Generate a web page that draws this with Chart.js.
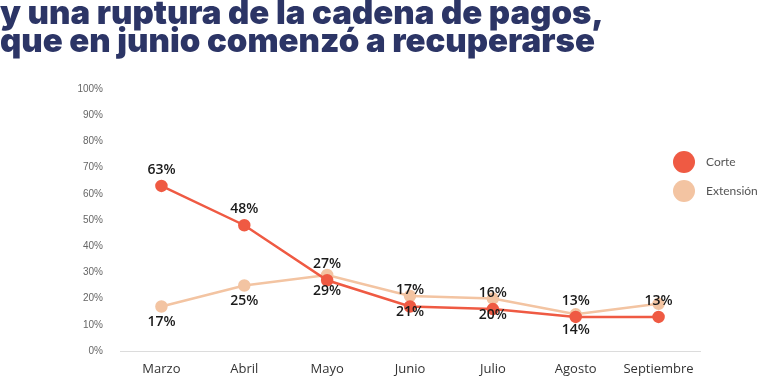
<!DOCTYPE html>
<html>
<head>
<meta charset="utf-8">
<script src="https://cdn.jsdelivr.net/npm/chart.js@4"></script>
<style>
  html, body { margin: 0; padding: 0; background: #fff; }
  #wrap { position: relative; width: 760px; height: 381px; overflow: hidden; }
  #title {
    position: absolute; left: 0; top: -2px; margin: 0;
    font-family: Inter, sans-serif; font-weight: 900; font-size: 33px;
    line-height: 28px; color: #2c3566; letter-spacing: 0;
  }
  #chart { position: absolute; left: 0; top: 0; }
</style>
</head>
<body>
<div id="wrap">
  <canvas id="chart" width="760" height="381"></canvas>
  <h1 id="title">y una ruptura de la cadena de pagos,<br>que en junio comenzó a recuperarse</h1>
</div>
<script>
(function () {
  'use strict';

  var meses = ['Marzo', 'Abril', 'Mayo', 'Junio', 'Julio', 'Agosto', 'Septiembre'];
  var corte = [63, 48, 27, 17, 16, 13, 13];
  var extension = [17, 25, 29, 21, 20, 14, 18];
  var corteLabels = ['63%', '48%', '27%', '17%', '16%', '13%', '13%'];
  var extensionLabels = ['17%', '25%', '29%', '21%', '20%', '14%', ''];

  var rojo = '#ef5a43';
  var durazno = '#f3c4a2';

  // etiquetas de valor sobre / bajo cada punto
  var etiquetas = {
    id: 'etiquetas',
    afterDatasetsDraw: function (chart) {
      var ctx = chart.ctx;
      ctx.save();
      ctx.font = '600 14px "Open Sans", sans-serif';
      ctx.fillStyle = '#1a1a1a';
      ctx.textAlign = 'center';
      ctx.textBaseline = 'middle';
      chart.data.datasets.forEach(function (ds, i) {
        var meta = chart.getDatasetMeta(i);
        var off = i === 0 ? -16 : 16;
        meta.data.forEach(function (pt, j) {
          var txt = ds.etiquetas[j];
          if (txt) ctx.fillText(txt, pt.x, pt.y + off);
        });
      });
      ctx.restore();
    }
  };

  // leyenda a la derecha
  var leyenda = {
    id: 'leyenda',
    afterDraw: function (chart) {
      var ctx = chart.ctx;
      ctx.save();
      ctx.font = '12px Lato, sans-serif';
      ctx.textBaseline = 'middle';
      chart.data.datasets.forEach(function (ds, i) {
        var y = 162 + i * 29;
        ctx.beginPath();
        ctx.arc(684, y, 11, 0, Math.PI * 2);
        ctx.fillStyle = ds.borderColor;
        ctx.fill();
        ctx.fillStyle = '#555';
        ctx.fillText(ds.label, 706, y);
      });
      ctx.restore();
    }
  };

  var ctx = document.getElementById('chart').getContext('2d');
  new Chart(ctx, {
    type: 'line',
    data: {
      labels: meses,
      datasets: [{
        label: 'Corte',
        data: corte,
        etiquetas: corteLabels,
        borderColor: rojo,
        backgroundColor: rojo,
        borderWidth: 2.5,
        pointRadius: 5,
        pointHoverRadius: 5,
        tension: 0
      }, {
        label: 'Extensión',
        data: extension,
        etiquetas: extensionLabels,
        borderColor: durazno,
        backgroundColor: durazno,
        borderWidth: 2.5,
        pointRadius: 5,
        pointHoverRadius: 5,
        tension: 0
      }]
    },
    options: {
      responsive: false,
      animation: false,
      layout: { padding: { left: 0, right: 60, top: 89, bottom: 0 } },
      plugins: {
        legend: { display: false },
        tooltip: { enabled: false }
      },
      scales: {
        x: {
          offset: true,
          grid: { display: false },
          border: { display: true, color: '#dcdcdc', width: 1 },
          ticks: {
            color: '#333',
            font: { family: '"Open Sans"', size: 13 },
            padding: 2
          },
          afterFit: function (s) { s.height = 30; }
        },
        y: {
          min: 0,
          max: 100,
          grid: { display: false },
          border: { display: false },
          ticks: {
            stepSize: 10,
            color: '#666',
            font: { family: '"Liberation Sans"', size: 10 },
            padding: 9,
            callback: function (v) { return v + '%'; }
          },
          afterFit: function (s) { s.width = 120; }
        }
      }
    },
    plugins: [etiquetas, leyenda]
  });
})();
</script>
</body>
</html>
